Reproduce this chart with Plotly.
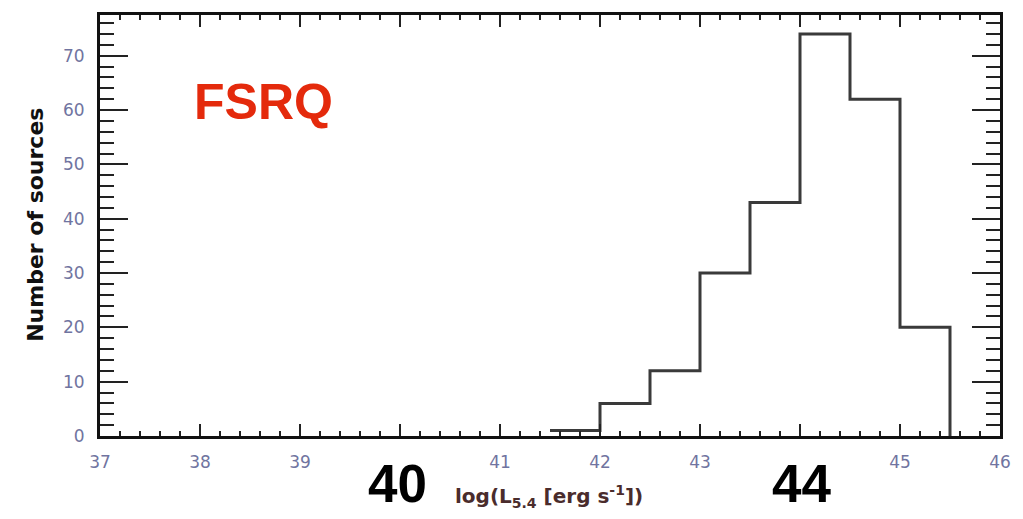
import plotly.graph_objects as go

# histogram bins (edges) and counts
bin_edges = [41.5, 42.0, 42.5, 43.0, 43.5, 44.0, 44.5, 45.0, 45.5]
counts = [1, 6, 12, 30, 43, 74, 62, 20]

x_ticks = [37, 38, 39, 40, 41, 42, 43, 44, 45, 46]
x_tick_text = ["37", "38", "39", "", "41", "42", "43", "", "45", "46"]
y_ticks = [0, 10, 20, 30, 40, 50, 60, 70]

W, H = 1023, 519
L, R, T, B = 100, 18, 12, 83
pw, ph = W - L - R, H - T - B


def px(x):
    return (x - L) / pw


def py(y):
    return (H - B - y) / ph


step_y = counts + [0]

fig = go.Figure()
fig.add_trace(go.Scatter(
    x=bin_edges, y=step_y, mode="lines", line_shape="hv",
    line=dict(color="#3a3a3a", width=3), showlegend=False, hoverinfo="skip",
))

tick_font = dict(family="DejaVu Sans, sans-serif", size=17, color="#7074a0")

fig.update_xaxes(
    range=[37, 46], tickvals=x_ticks, ticktext=x_tick_text, ticks="inside", ticklen=12, tickwidth=2,
    tickcolor="#222", showline=True, linewidth=3, linecolor="#111", mirror="allticks",
    showgrid=False, zeroline=False, tickfont=tick_font, ticklabelstandoff=9,
    minor=dict(dtick=0.2, ticks="inside", ticklen=5, tickwidth=2, tickcolor="#222", showgrid=False),
)
fig.update_yaxes(
    range=[0, 77.5], tickvals=y_ticks, ticks="inside", ticklen=28, tickwidth=2,
    tickcolor="#222", showline=True, linewidth=3, linecolor="#111", mirror="allticks",
    showgrid=False, zeroline=False, tickfont=tick_font, ticklabelstandoff=9,
    minor=dict(dtick=2, ticks="inside", ticklen=14, tickwidth=2, tickcolor="#222", showgrid=False),
)

annotations = [
    dict(text="<b>FSRQ</b>", x=px(264), y=py(100), font=dict(family="Liberation Sans, Arial", size=50, color="#e42a0c")),
    dict(text="<b>40</b>", x=px(399), y=py(484), font=dict(family="Liberation Sans, Arial", size=53, color="#000")),
    dict(text="<b>44</b>", x=px(805), y=py(484), font=dict(family="Liberation Sans, Arial", size=53, color="#000")),
    dict(text="<b>log(L<sub>5.4</sub> [erg s<sup>-1</sup>])</b>", x=px(551), y=py(497),
         font=dict(family="DejaVu Sans, sans-serif", size=20, color="#4a2c2c")),
    dict(text="<b>Number of sources</b>", x=px(35), y=py(223), textangle=-90,
         font=dict(family="DejaVu Sans, sans-serif", size=22, color="#111")),
]
for a in annotations:
    a.update(xref="paper", yref="paper", showarrow=False, xanchor="center", yanchor="middle")

fig.update_layout(
    width=W, height=H, margin=dict(l=L, r=R, t=T, b=B),
    paper_bgcolor="white", plot_bgcolor="white", annotations=annotations,
)

fig.write_html("out.html")
